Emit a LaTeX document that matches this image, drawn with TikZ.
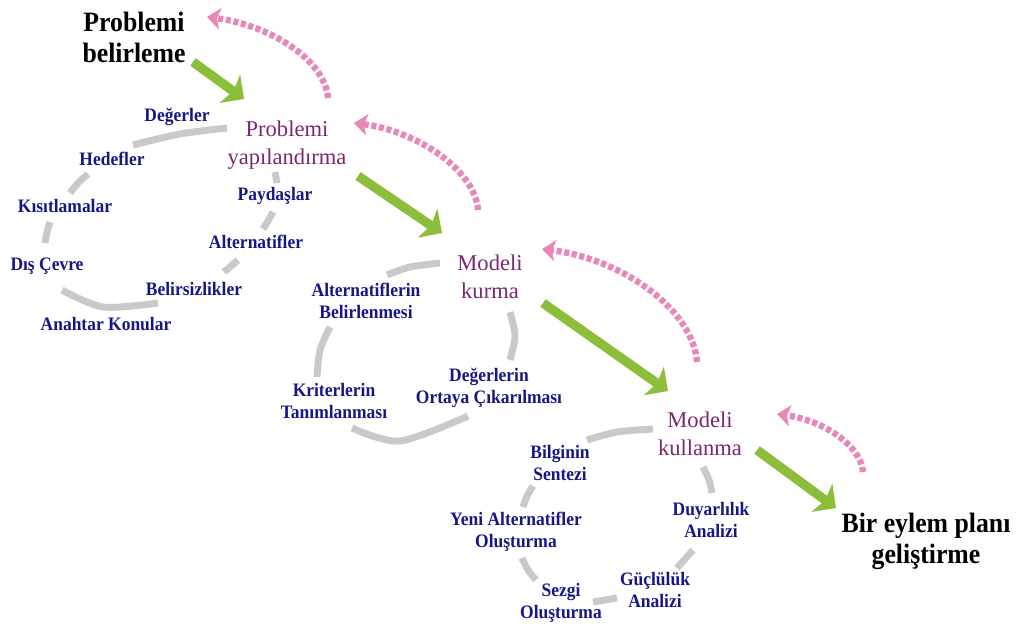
\documentclass[tikz,border=0pt]{standalone}
\usepackage{fontspec}
\setmainfont{Liberation Serif}
\newfontfamily\headserif[FakeStretch=0.92]{Liberation Serif}
\usetikzlibrary{arrows.meta}

\definecolor{ringgray}{RGB}{201,201,201}
\definecolor{flowgreen}{RGB}{140,190,60}
\definecolor{backpink}{RGB}{234,135,185}
\definecolor{labelblue}{RGB}{22,22,135}
\definecolor{stagepurple}{RGB}{122,38,112}

% multi-line nodes: the base anchor sits on the last line's baseline
\tikzset{
  title/.style={anchor=base, align=center, inner sep=0pt, text=black,
    font=\headserif\bfseries\fontsize{21pt}{23.25pt}\selectfont},
  stage/.style={anchor=base, align=center, inner sep=0pt, text=stagepurple,
    font=\fontsize{16.9pt}{21pt}\selectfont},
  topic/.style={anchor=base, align=center, inner sep=0pt, text=labelblue,
    font=\headserif\bfseries\fontsize{14.25pt}{16.5pt}\selectfont},
  ring/.style={draw=ringgray, line width=5.2pt, line cap=butt},
  forward/.style={draw=flowgreen, line width=7pt,
    -{Stealth[length=13pt, width=26pt, inset=3pt]}},
  feedback/.style={draw=backpink, line width=4.8pt,
    dash pattern=on 3.8pt off 2pt,
    -{Stealth[length=10pt, width=16pt, inset=2.5pt]}},
}

\begin{document}
\begin{tikzpicture}[x=0.75pt, y=-0.75pt]
\useasboundingbox (0,0) rectangle (1016,633);

% ---------- stage headings ----------
\node[title] (define)   at (134,62)  {Problemi\\belirleme};
\node[title] (action)   at (926,563) {Bir eylem planı\\geliştirme};
\node[stage] (struct)   at (287,164) {Problemi\\yapılandırma};
\node[stage] (build)    at (490,298) {Modeli\\kurma};
\node[stage] (use)      at (700,455) {Modeli\\kullanma};

% ---------- first ring: structuring ----------
\draw[ring] plot[smooth] coordinates {(133,145) (180,134) (227,128)};
\draw[ring] plot[smooth] coordinates {(88,174) (78,183) (70,193)};
\draw[ring] plot[smooth] coordinates {(50,222) (47,232) (45,243)};
\draw[ring] plot[smooth] coordinates {(62,290) (103,307) (158,303)};
\draw[ring] plot[smooth] coordinates {(224,272) (231,266) (238,260)};
\draw[ring] plot[smooth] coordinates {(263,229) (268,221) (273,212)};
\draw[ring] plot[smooth] coordinates {(275,172) (276,177) (277,183)};

\node[topic] (values)   at (177,121) {Değerler};
\node[topic] (goals)    at (112,165) {Hedefler};
\node[topic] (limits)   at (65,212)  {Kısıtlamalar};
\node[topic] (env)      at (47,270)  {Dış Çevre};
\node[topic] (keyissue) at (106,330) {Anahtar Konular};
\node[topic] (uncert)   at (194,295) {Belirsizlikler};
\node[topic] (alts)     at (256,248) {Alternatifler};
\node[topic] (stake)    at (275,200) {Paydaşlar};

% ---------- second ring: model building ----------
\draw[ring] plot[smooth] coordinates {(387,275) (410,267) (440,263)};
\draw[ring] plot[smooth] coordinates {(330,327) (320,350) (317,377)};
\draw[ring] plot[smooth] coordinates {(352,428) (400,441) (468,416)};
\draw[ring] plot[smooth] coordinates {(510,312) (515,336) (510,360)};

\node[topic] (altdef)   at (366,318) {Alternatiflerin\\Belirlenmesi};
\node[topic] (crit)     at (334,418) {Kriterlerin\\Tanımlanması};
\node[topic] (elicit)   at (489,403) {Değerlerin\\Ortaya Çıkarılması};

% ---------- third ring: using the model ----------
\draw[ring] plot[smooth] coordinates {(587,440) (617,432) (653,429)};
\draw[ring] plot[smooth] coordinates {(533,486) (527,496) (523,507)};
\draw[ring] plot[smooth] coordinates {(522,558) (528,570) (536,580)};
\draw[ring] plot[smooth] coordinates {(593,602) (605,600) (617,598)};
\draw[ring] plot[smooth] coordinates {(677,568) (685,559) (693,550)};
\draw[ring] plot[smooth] coordinates {(703,467) (709,480) (712,493)};

\node[topic] (synth)    at (560,480) {Bilginin\\Sentezi};
\node[topic] (newalt)   at (516,547) {Yeni Alternatifler\\Oluşturma};
\node[topic] (insight)  at (561,618) {Sezgi\\Oluşturma};
\node[topic] (robust)   at (655,607) {Güçlülük\\Analizi};
\node[topic] (sens)     at (711,537) {Duyarlılık\\Analizi};

% ---------- arrow end points ----------
\coordinate (f1a) at (193,62);  \coordinate (f1b) at (244,99);
\coordinate (f2a) at (358,176); \coordinate (f2b) at (442,233);
\coordinate (f3a) at (543,303); \coordinate (f3b) at (668,391);
\coordinate (f4a) at (757,450); \coordinate (f4b) at (836,508);

\coordinate (b1a) at (328,98);  \coordinate (b1b) at (207,17);
\coordinate (b2a) at (478,210); \coordinate (b2b) at (354,123);
\coordinate (b3a) at (697,362); \coordinate (b3b) at (542,249);
\coordinate (b4a) at (863,472); \coordinate (b4b) at (777,414);

% forward steps
\draw[forward] (f1a) -- (f1b);
\draw[forward] (f2a) -- (f2b);
\draw[forward] (f3a) -- (f3b);
\draw[forward] (f4a) -- (f4b);

% feedback loops
\draw[feedback] (b1a) .. controls (325,60) and (270,25) .. (b1b);
\draw[feedback] (b2a) .. controls (475,170) and (417,131) .. (b2b);
\draw[feedback] (b3a) .. controls (693,310) and (623,259) .. (b3b);
\draw[feedback] (b4a) .. controls (861,445) and (822,420) .. (b4b);
\end{tikzpicture}
\end{document}
